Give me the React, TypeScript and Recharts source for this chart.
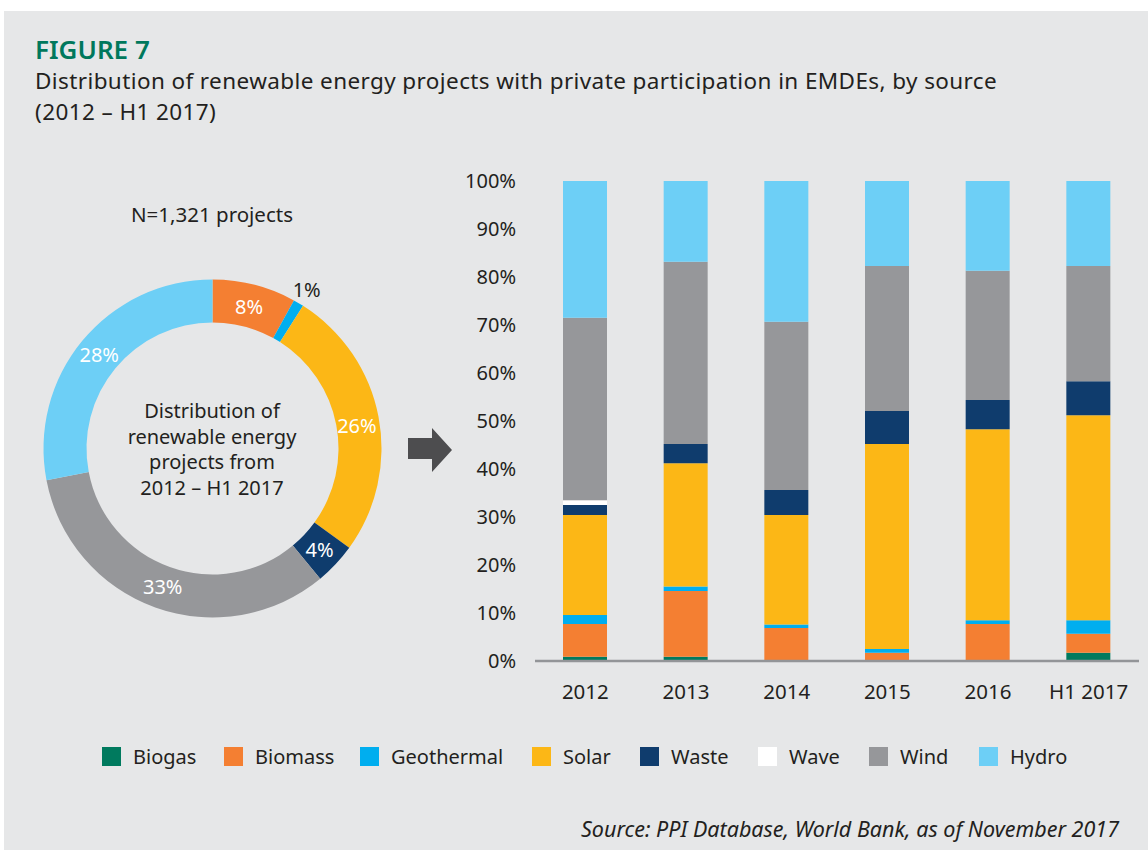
import React from 'react'
import { BarChart, Bar, XAxis, YAxis, PieChart, Pie, Cell } from 'recharts'

const FONT = '"Noto Sans", Lato, sans-serif'
const TEXT = '#231f20'
const BG = '#e6e7e8'

const categories = ['2012', '2013', '2014', '2015', '2016', 'H1 2017']
const biogas = [0.9, 0.9, 0, 0, 0, 1.7]
const biomass = [6.8, 13.7, 6.9, 1.7, 7.7, 4.0]
const geothermal = [1.9, 0.9, 0.7, 0.8, 0.8, 2.8]
const solar = [20.8, 25.7, 22.8, 42.7, 39.8, 42.7]
const waste = [2.1, 4.0, 5.2, 6.9, 6.1, 7.1]
const wave = [1.0, 0, 0, 0, 0, 0]
const wind = [38.0, 38.0, 35.1, 30.2, 26.9, 24.0]
const hydro = [28.5, 16.8, 29.3, 17.7, 18.7, 17.7]
const yTicks = [0, 10, 20, 30, 40, 50, 60, 70, 80, 90, 100]

const donutNames = ['Biomass', 'Geothermal', 'Solar', 'Waste', 'Wind', 'Hydro']
const donutValues = [8, 1, 26, 4, 33, 28]

const SERIES = [
  { key: 'Biogas', values: biogas, color: '#007a5e' },
  { key: 'Biomass', values: biomass, color: '#f47f32' },
  { key: 'Geothermal', values: geothermal, color: '#00aeef' },
  { key: 'Solar', values: solar, color: '#fcb716' },
  { key: 'Waste', values: waste, color: '#0f3c6d' },
  { key: 'Wave', values: wave, color: '#ffffff' },
  { key: 'Wind', values: wind, color: '#96979a' },
  { key: 'Hydro', values: hydro, color: '#6dcff6' }
]

const colorOf = (name: string) => SERIES.find(s => s.key === name)!.color

const barData = categories.map((c, i) => {
  const row: Record<string, any> = { year: c }
  SERIES.forEach(s => { row[s.key] = s.values[i] })
  return row
})

const donutData = donutNames.map((n, i) => ({ name: n, value: donutValues[i] }))

// legend x positions
const legendX = [102, 224, 360, 532, 640, 758, 869, 979]

const RAD = Math.PI / 180

const renderDonutLabel = (props: any) => {
  const { cx, cy, midAngle, value } = props
  const small = value < 2
  const r = small ? 185 : 147
  const x = cx + r * Math.cos(-midAngle * RAD)
  const y = cy + r * Math.sin(-midAngle * RAD) + (value === 26 ? 5 : 0)
  return (
    <text x={x} y={y} fill={small ? TEXT : '#ffffff'} fontSize={20} fontFamily={FONT}
      textAnchor="middle" dominantBaseline="central">
      {value}%
    </text>
  )
}

const lineStyle: React.CSSProperties = {
  position: 'absolute', left: 35, fontSize: 22.5, letterSpacing: 0.4, lineHeight: '31px', height: 31,
  color: TEXT, whiteSpace: 'nowrap'
}

export default function App() {
  return (
    <div style={{ position: 'absolute', left: 0, top: 0, width: 1148, height: 850, background: '#fff', fontFamily: FONT, overflow: 'hidden' }}>
      <div style={{ position: 'absolute', left: 4, top: 11, right: 0, bottom: 0, background: BG }} />

      <div style={{ position: 'absolute', left: 35, top: 34, fontSize: 26, lineHeight: '30px', fontWeight: 600, color: '#00785c' }}>FIGURE 7</div>
      <div style={{ ...lineStyle, top: 65 }}>
        Distribution of renewable energy projects with private participation in EMDEs, by source
      </div>
      <div style={{ ...lineStyle, top: 96 }}>(2012 – H1 2017)</div>

      <div style={{ position: 'absolute', left: 112, width: 200, top: 201, textAlign: 'center', fontSize: 20.5, lineHeight: '26px', color: TEXT, whiteSpace: 'nowrap' }}>N=1,321 projects</div>

      <div style={{ position: 'absolute', left: 0, top: 230 }}>
        <PieChart width={425} height={437} margin={{ top: 0, right: 0, bottom: 0, left: 0 }}>
          <Pie data={donutData} dataKey="value" nameKey="name" cx={212.5} cy={218.5}
            innerRadius={126} outerRadius={169} startAngle={90} endAngle={-270}
            stroke="none" label={renderDonutLabel} labelLine={false} isAnimationActive={false}>
            {donutData.map(d => <Cell key={d.name} fill={colorOf(d.name)} />)}
          </Pie>
        </PieChart>
      </div>

      <div style={{ position: 'absolute', left: 102, width: 220, top: 398, textAlign: 'center', fontSize: 20, lineHeight: '25.7px', color: TEXT, whiteSpace: 'nowrap' }}>
        Distribution of<br />renewable energy<br />projects from<br />2012 – H1 2017
      </div>

      <svg style={{ position: 'absolute', left: 400, top: 420 }} width={60} height={60}>
        <polygon points="8,18 32,18 32,8 52,30 32,52 32,39 8,39" fill="#4d4d4f" />
      </svg>

      <div style={{ position: 'absolute', left: 440, top: 150 }}>
        <BarChart width={708} height={580} data={barData} margin={{ top: 31, right: 9, bottom: 29, left: 0 }} barSize={44}>
          <XAxis dataKey="year" axisLine={{ stroke: '#939598', strokeWidth: 2.5 }} tickLine={false}
            tickMargin={17} height={40} interval={0}
            tick={{ fill: TEXT, fontSize: 20.5, fontFamily: FONT }} />
          <YAxis domain={[0, 100]} ticks={yTicks} width={95} axisLine={false} tickLine={false}
            tickMargin={13} tickFormatter={(v: number) => `${v}%`}
            tick={{ fill: TEXT, fontSize: 20, fontFamily: FONT }} />
          {SERIES.map(s => (
            <Bar key={s.key} dataKey={s.key} stackId="a" fill={s.color} isAnimationActive={false} />
          ))}
        </BarChart>
      </div>

      {SERIES.map((s, i) => (
        <div key={s.key} style={{ position: 'absolute', left: legendX[i], top: 746, display: 'flex', alignItems: 'center', height: 20 }}>
          <div style={{ width: 19, height: 19, background: s.color }} />
          <span style={{ marginLeft: 12, fontSize: 20, color: TEXT, whiteSpace: 'nowrap' }}>{s.key}</span>
        </div>
      ))}

      <div style={{ position: 'absolute', right: 29, top: 815, fontSize: 21.5, lineHeight: '28px', fontStyle: 'italic', color: TEXT, whiteSpace: 'nowrap' }}>
        Source: PPI Database, World Bank, as of November 2017
      </div>
    </div>
  )
}
